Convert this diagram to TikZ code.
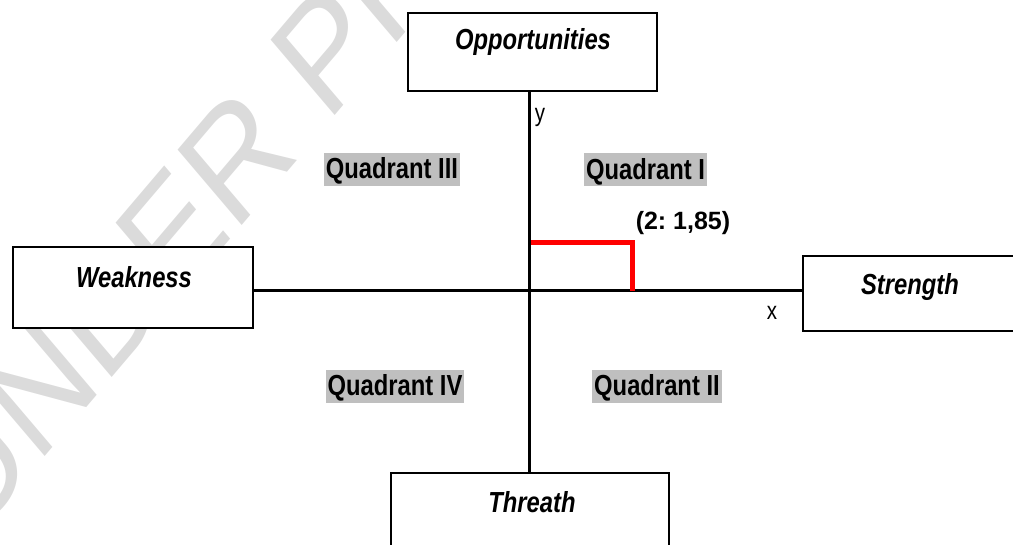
\documentclass[tikz,border=0pt]{standalone}
\usepackage{fontspec}
\setmainfont{Liberation Sans}[FakeStretch=0.82]
\newfontfamily\plainfont{Liberation Sans}
\usetikzlibrary{calc}
\begin{document}
\frenchspacing
\begin{tikzpicture}[x=1pt,y=-1pt,
  sbox/.style={draw, line width=2.5pt, fill=white, rectangle, inner sep=0pt},
  btext/.style={font=\fontsize{29}{32}\selectfont\bfseries\itshape, anchor=base, inner sep=0pt},
  quad/.style={fill=black!25, font=\fontsize{29}{32}\selectfont\bfseries, text height=25pt, text depth=6pt, inner xsep=2pt, inner ysep=1pt},
  axisline/.style={line width=3pt},
  redline/.style={line width=5pt, red, line join=miter},
  wmark/.style={anchor=base west, rotate=45, text=black!14, font=\plainfont\fontsize{155}{155}\selectfont, inner sep=0pt}
]
\useasboundingbox (0,0) rectangle (1013,545);
\begin{scope}[xscale=0.85, transform shape]
\node[wmark] (wm) at (-35,545) {UNDER PREVIEW};
\end{scope}
% boxes
\node[sbox, minimum width=249pt, minimum height=78pt] (opp) at (532.5,52) {};
\node[btext] (oppt) at (533,50) {Opportunities};
\node[sbox, minimum width=240pt, minimum height=81pt] (weak) at (133,287.5) {};
\node[btext] (weakt) at (134,288) {Weakness};
\node[sbox, minimum width=214pt, minimum height=75pt] (str) at (910,293.5) {};
\node[btext] (strt) at (910,295) {Strength};
\node[sbox, minimum width=278pt, minimum height=97pt] (thr) at (530,521.5) {};
\node[btext] (thrt) at (532,512) {Threath};
% axes
\coordinate (O) at (529.5,291);
\draw[axisline] (opp.south -| O) -- (thr.north -| O);
\draw[axisline] (weak.east |- O) -- (str.west |- O);
% red marker
\coordinate (ry) at (531,243);
\coordinate (pt) at (632,243);
\coordinate (rx) at (632,291);
\draw[redline] (ry) -- (pt) -- (rx);
% labels
\node[font=\plainfont\fontsize{25}{27}\selectfont\bfseries] (lbl) at (683,223) {(2: 1,85)};
\node[font=\fontsize{25}{27}\selectfont] (ylab) at (540,117) {y};
\node[font=\fontsize{25}{27}\selectfont] (xlab) at (772,313) {x};
% quadrants
\node[quad] (q3) at (392,169.5) {Quadrant III};
\node[quad] (q1) at (645.5,170) {Quadrant I};
\node[quad] (q4) at (395,386.5) {Quadrant IV};
\node[quad] (q2) at (657,386.5) {Quadrant II};
\end{tikzpicture}
\end{document}
